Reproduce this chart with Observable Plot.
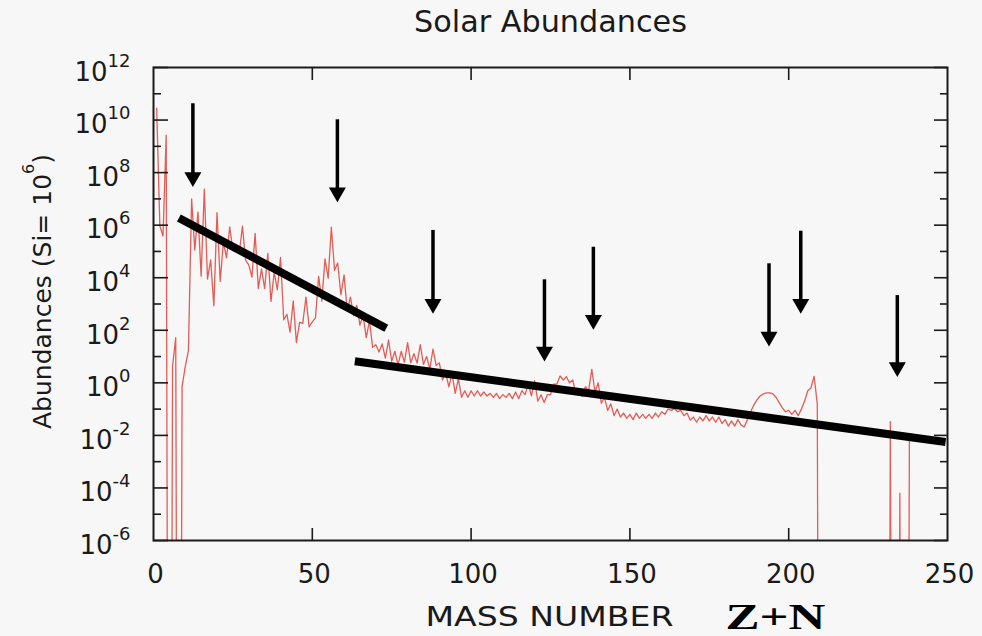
<!DOCTYPE html>
<html><head><meta charset="utf-8">
<script src="https://cdn.jsdelivr.net/npm/d3@7"></script>
<script src="https://cdn.jsdelivr.net/npm/@observablehq/plot@0.6"></script>
<style>html,body{margin:0;padding:0;background:#f7f7f7;} #chart{width:982px;height:636px;}</style>
</head><body><div id="chart"></div>
<script>
// log10 of solar abundance (Si = 1e6) for mass numbers 1..238; null = no stable isotope
const logAbundance = [
  10.45, 5.98, 5.59, 9.43, null, 0.63, 1.72, null, -0.14, 0.62,
  1.23, 7.00, 5.05, 6.50, 4.06, 7.37, 3.95, 4.68, 2.93, 6.48,
  3.86, 5.35, 4.76, 5.93, 5.03, 5.07, 4.93, 5.96, 4.67, 4.49,
  4.02, 5.69, 3.59, 4.34, 3.59, 4.93, 3.10, 4.21, 3.54, 4.77,
  2.40, 2.61, 1.93, 3.12, 1.53, 2.30, 2.26, 3.26, 2.13, 2.32,
  2.47, 4.05, 3.11, 4.72, 3.98, 5.92, 4.28, 4.56, 3.35, 4.11,
  2.75, 3.26, 2.56, 2.95, 2.20, 2.54, 1.72, 2.37, 1.35, 1.45,
  1.17, 1.48, 0.94, 1.63, 0.82, 1.20, 0.69, 1.20, 0.78, 1.53,
  0.76, 1.11, 0.75, 1.45, 0.70, 1.00, 0.52, 1.28, 0.66, 0.76,
  0.11, 0.38, -0.15, 0.34, -0.40, 0.15, -0.55, -0.30, -0.55, -0.30,
  -0.50, -0.30, -0.50, -0.35, -0.50, -0.40, -0.55, -0.40, -0.60, -0.45,
  -0.55, -0.40, -0.60, -0.35, -0.60, -0.30, -0.45, -0.05, -0.50, 0.08,
  -0.70, -0.45, -0.75, -0.45, -0.45, -0.05, -0.05, 0.26, 0.11, 0.23,
  0.00, 0.11, -0.43, -0.22, -0.52, -0.15, -0.30, 0.51, -0.35, 0.00,
  -0.77, -0.55, -1.05, -0.80, -1.25, -1.00, -1.30, -1.15, -1.35, -1.20,
  -1.40, -1.15, -1.35, -1.20, -1.35, -1.20, -1.35, -1.15, -1.30, -1.10,
  -1.20, -1.00, -1.05, -0.98, -1.10, -1.05, -1.25, -1.15, -1.42, -1.30,
  -1.50, -1.30, -1.45, -1.25, -1.45, -1.30, -1.50, -1.30, -1.55, -1.40,
  -1.65, -1.45, -1.65, -1.40, -1.60, -1.68, -1.40, -1.10, -0.85, -0.65,
  -0.50, -0.42, -0.38, -0.38, -0.42, -0.55, -0.75, -0.95, -1.10, -1.05,
  -1.20, -1.05, -1.25, -1.00, -0.70, -0.30, -0.20, 0.25, -0.80, null,
  null, null, null, null, null, null, null, null, null, null,
  null, null, null, null, null, null, null, null, null, null,
  null, -1.48, null, null, -4.20, null, null, -2.15
];
const FLOOR_ABUNDANCE = 1e-40; // missing isotopes drop off the bottom

// Two black trend lines (segment id, mass number, log10 abundance)
const fitId   = ["a", "a", "b", "b"];
const fitMass = [8.0, 73.3, 63.4, 249.4];
const fitLog  = [6.27, 2.08, 0.82, -2.25];

// Arrows (mass number, log10 at arrow top, log10 at arrow tip)
const arrowMass   = [12.4, 57.9, 88.0, 123.1, 138.5, 193.8, 203.8, 234.2];
const arrowTopLog = [10.62, 10.01, 5.80, 3.92, 5.16, 4.53, 5.77, 3.32];
const arrowTipLog = [7.45, 6.87, 2.63, 0.81, 2.02, 1.38, 2.63, 0.22];

// Axes
const xTicks = [0, 50, 100, 150, 200, 250];
const xInnerTicks = [50, 100, 150, 200];
const yLabelExps = [-6, -4, -2, 0, 2, 4, 6, 8, 10, 12];
const yMinorExps = [-5, -3, -1, 1, 3, 5, 7, 9, 11];

const title = "Solar Abundances";
const xLabel = "MASS NUMBER";
const xLabel2 = "Z+N";
const yLabel = "Abundances (Si= 106)";

const curve = logAbundance.map((v, i) => ({a: i + 1, y: v === null ? FLOOR_ABUNDANCE : 10 ** v}));
const fits = fitMass.map((m, i) => ({id: fitId[i], a: m, y: 10 ** fitLog[i]}));
const arrows = arrowMass.map((m, i) => ({a: m, top: 10 ** arrowTopLog[i], tip: 10 ** arrowTipLog[i]}));

const W = 982, H = 636, ML = 153, MR = 35, MT = 67, MB = 96;
const FW = W - ML - MR, FH = H - MT - MB;
const ink = "#1a1a1a";

const svg = Plot.plot({
  width: W, height: H,
  marginLeft: ML, marginRight: MR, marginTop: MT, marginBottom: MB,
  style: {background: "#f7f7f7", fontFamily: "DejaVu Sans", color: ink},
  x: {domain: [0, 250]},
  y: {type: "log", domain: [1e-6, 1e12]},
  marks: [
    Plot.line(curve, {x: "a", y: "y", stroke: "#e45c55", strokeWidth: 1.3, clip: true}),
    Plot.line(fits, {x: "a", y: "y", z: "id", stroke: "black", strokeWidth: 8, strokeLinecap: "butt"}),
    Plot.ruleX(arrows, {x: "a", y1: "top", y2: "tip", stroke: "black", strokeWidth: 3.5, insetBottom: 10}),
    Plot.dot(arrows, {x: "a", y: "tip", symbol: "triangle", r: 6.3, rotate: 180, fill: "black", stroke: "none", dy: -9.8}),
    // inward ticks
    Plot.ruleY(yLabelExps.map(e => 10 ** e), {y: d => d, stroke: ink, strokeWidth: 1.6, insetRight: FW - 15}),
    Plot.ruleY(yMinorExps.map(e => 10 ** e), {y: d => d, stroke: ink, strokeWidth: 1.6, insetRight: FW - 8}),
    Plot.ruleY(yLabelExps.map(e => 10 ** e), {y: d => d, stroke: ink, strokeWidth: 1.6, insetLeft: FW - 13}),
    Plot.ruleY(yMinorExps.map(e => 10 ** e), {y: d => d, stroke: ink, strokeWidth: 1.6, insetLeft: FW - 7}),
    Plot.ruleX(xInnerTicks, {x: d => d, stroke: ink, strokeWidth: 1.6, insetTop: FH - 12}),
    Plot.ruleX(xInnerTicks, {x: d => d, stroke: ink, strokeWidth: 1.6, insetBottom: FH - 13}),
    Plot.frame({stroke: ink, strokeWidth: 2}),
    Plot.axisX({ticks: xTicks, tickSize: 0, tickPadding: 24, fontSize: 26, label: null, tickFormat: d => String(d), dx: 2}),
    Plot.axisY({ticks: yLabelExps.map(e => 10 ** e), tickSize: 0, tickPadding: 23, fontSize: 26, label: null,
      tickFormat: d => String(Math.round(Math.log10(d))), dy: 5}),
    Plot.text([title], {frameAnchor: "top", dy: -44.7, fontSize: 30, lineAnchor: "middle", fill: ink}),
    Plot.text([xLabel], {frameAnchor: "bottom", dx: -1, dy: 77.5, fontSize: 26.5, lineAnchor: "middle", fill: ink}),
    Plot.text([xLabel2], {frameAnchor: "bottom", dx: 225, dy: 77.7, fontSize: 35, fontWeight: "bold",
      fontFamily: "Liberation Serif", lineAnchor: "middle", fill: "black"}),
    Plot.text([yLabel], {frameAnchor: "left", textAnchor: "middle", rotate: -90, dx: -111, dy: -12.5, fontSize: 25, lineAnchor: "middle", fill: ink})
  ]
});

const s = d3.select(svg);
// superscript exponents on y tick labels
s.selectAll('g[aria-label="y-axis tick label"] text').each(function() {
  const e = this.textContent;
  const t = d3.select(this);
  t.text("10");
  t.append("tspan").attr("dy", -14).attr("font-size", 18).text(e);
});
s.selectAll("text").each(function() {
  const t = d3.select(this);
  const c = this.textContent;
  if (c === yLabel) {
    t.text("Abundances (Si= 10");
    t.append("tspan").attr("dy", -17).attr("font-size", 16).text("6");
    t.append("tspan").attr("dy", 17).attr("font-size", 25).text(")");
  } else if (c === xLabel) {
    t.attr("textLength", 248).attr("lengthAdjust", "spacingAndGlyphs");
  } else if (c === xLabel2) {
    t.attr("textLength", 100).attr("lengthAdjust", "spacingAndGlyphs");
  } else if (c === title) {
    t.attr("textLength", 273).attr("lengthAdjust", "spacingAndGlyphs");
  }
});
document.getElementById("chart").append(svg);
</script>
</body></html>
